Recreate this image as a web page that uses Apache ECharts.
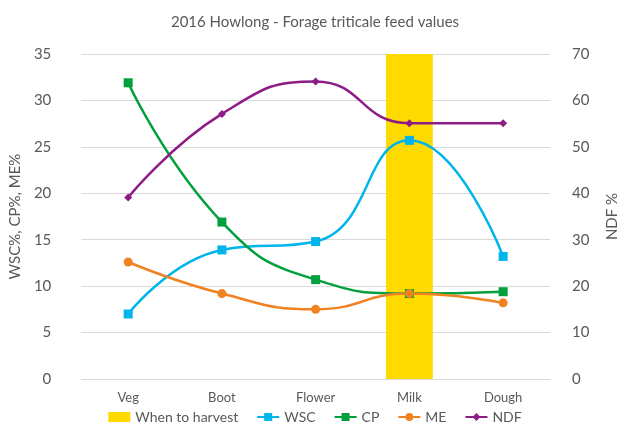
<!DOCTYPE html>
<html>
<head>
<meta charset="utf-8">
<script src="https://cdn.jsdelivr.net/npm/echarts@6/dist/echarts.min.js"></script>
<style>
  html, body { margin: 0; padding: 0; background: #fff; }
  #chart { width: 630px; height: 432px; }
</style>
</head>
<body>
<div id="chart"></div>
<script>
  // growth stages
  const stages = ['Veg', 'Boot', 'Flower', 'Milk', 'Dough'];
  // left axis series (%)
  const wsc = [7.0, 13.9, 14.8, 25.7, 13.2];
  const cp = [31.9, 16.9, 10.7, 9.2, 9.4];
  const me = [12.6, 9.2, 7.5, 9.2, 8.2];
  // right axis (NDF %)
  const ndf = [39.1, 57.1, 64.1, 55.1, 55.1];
  // harvest marker bar, only at Milk
  const harvest = ['-', '-', '-', 35, '-'];

  const txt = '#595959';
  const font = 'Lato';

  let chart = echarts.init(document.getElementById('chart'));

  const lineSeries = (name, data, color, symbol, size, axis) => ({
    name: name,
    type: 'line',
    yAxisIndex: axis,
    data: data,
    smooth: 0.5,
    symbol: symbol,
    symbolSize: size,
    itemStyle: { color: color },
    lineStyle: { color: color, width: 2.5 },
    z: 3
  });

  let option = {
    textStyle: { fontFamily: font },
    title: {
      text: '2016 Howlong - Forage triticale feed values',
      left: 'center',
      top: 10,
      textStyle: { color: txt, fontSize: 15, fontWeight: 'normal', fontFamily: font }
    },
    grid: { left: 80, right: 80, top: 54, bottom: 53 },
    legend: {
      bottom: 3,
      left: 'center',
      itemWidth: 22,
      itemHeight: 10,
      itemGap: 18,
      textStyle: { color: txt, fontSize: 14, fontFamily: font },
      data: [
        { name: 'When to harvest', icon: 'rect', itemStyle: { color: '#FFDA00' } },
        'WSC', 'CP', 'ME', 'NDF'
      ]
    },
    xAxis: {
      type: 'category',
      data: stages,
      axisLine: { show: true, lineStyle: { color: '#d9d9d9' } },
      axisTick: { show: false },
      axisLabel: { color: txt, fontSize: 13, margin: 12 }
    },
    yAxis: [
      {
        type: 'value',
        min: 0, max: 35, interval: 5,
        name: 'WSC%, CP%, ME%',
        nameLocation: 'middle',
        nameGap: 52,
        nameTextStyle: { color: txt, fontSize: 15 },
        axisLine: { show: false },
        axisTick: { show: false },
        axisLabel: { color: txt, fontSize: 15, margin: 30 },
        splitLine: { lineStyle: { color: '#d9d9d9', width: 1 } }
      },
      {
        type: 'value',
        min: 0, max: 70, interval: 10,
        name: 'NDF %',
        nameLocation: 'middle',
        nameGap: 55,
        nameRotate: 90,
        nameTextStyle: { color: txt, fontSize: 15 },
        axisLine: { show: false },
        axisTick: { show: false },
        axisLabel: { color: txt, fontSize: 15, margin: 22 },
        splitLine: { show: false }
      }
    ],
    series: [
      {
        name: 'When to harvest',
        type: 'bar',
        data: harvest,
        barWidth: '50%',
        itemStyle: { color: '#FFDA00' },
        z: 1
      },
      lineSeries('WSC', wsc, '#00B4EC', 'rect', 9, 0),
      lineSeries('CP', cp, '#00A03C', 'rect', 9, 0),
      lineSeries('ME', me, '#F08222', 'circle', 9, 0),
      lineSeries('NDF', ndf, '#8E1C86', 'diamond', 8, 1)
    ]
  };

  if (option && typeof option === 'object') {
    chart.setOption(option, true);
  }
</script>
</body>
</html>
